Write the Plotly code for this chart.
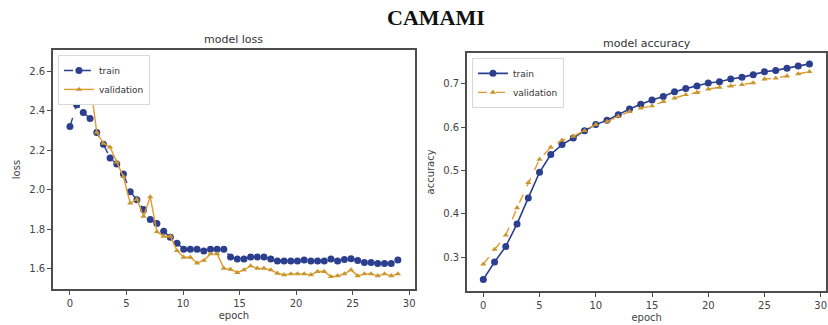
import plotly.graph_objects as go

# ---- data -------------------------------------------------------------
# loss curves are logged 50 times over 29 epochs
loss_epoch = [0.0, 0.59, 1.18, 1.78, 2.37, 2.96, 3.55, 4.14, 4.73, 5.33,
              5.92, 6.51, 7.10, 7.69, 8.29, 8.88, 9.47, 10.06, 10.65, 11.24,
              11.84, 12.43, 13.02, 13.61, 14.20, 14.80, 15.39, 15.98, 16.57, 17.16,
              17.76, 18.35, 18.94, 19.53, 20.12, 20.71, 21.31, 21.90, 22.49, 23.08,
              23.67, 24.27, 24.86, 25.45, 26.04, 26.63, 27.22, 27.82, 28.41, 29.0]
loss_train = [2.32, 2.43, 2.39, 2.36, 2.29, 2.23, 2.16, 2.13, 2.08, 1.99,
              1.95, 1.90, 1.85, 1.83, 1.79, 1.76, 1.73, 1.70, 1.70, 1.70,
              1.69, 1.70, 1.70, 1.70, 1.66, 1.65, 1.65, 1.66, 1.66, 1.66,
              1.65, 1.64, 1.64, 1.64, 1.64, 1.645, 1.64, 1.64, 1.64, 1.65,
              1.64, 1.648, 1.652, 1.642, 1.632, 1.632, 1.628, 1.627, 1.628, 1.645]
loss_val = [2.65, 2.64, 2.62, 2.55, 2.29, 2.235, 2.215, 2.14, 2.066, 1.932,
            1.952, 1.866, 1.964, 1.788, 1.765, 1.765, 1.692, 1.659, 1.659, 1.63,
            1.643, 1.676, 1.676, 1.603, 1.598, 1.582, 1.595, 1.615, 1.603, 1.603,
            1.595, 1.578, 1.57, 1.575, 1.575, 1.575, 1.57, 1.587, 1.587, 1.561,
            1.565, 1.575, 1.595, 1.565, 1.575, 1.575, 1.565, 1.575, 1.565, 1.575]

acc_epoch = list(range(30))
acc_train = [0.249, 0.289, 0.325, 0.377, 0.437, 0.496, 0.537, 0.560, 0.575, 0.592,
             0.606, 0.616, 0.629, 0.642, 0.653, 0.663, 0.671, 0.682, 0.689, 0.695,
             0.702, 0.705, 0.711, 0.715, 0.721, 0.728, 0.731, 0.736, 0.741, 0.746]
acc_val = [0.284, 0.318, 0.351, 0.414, 0.472, 0.526, 0.554, 0.570, 0.579, 0.592,
           0.606, 0.613, 0.625, 0.636, 0.644, 0.649, 0.659, 0.667, 0.675, 0.680,
           0.688, 0.692, 0.695, 0.698, 0.702, 0.711, 0.713, 0.718, 0.723, 0.728]

x_ticks = [0, 5, 10, 15, 20, 25, 30]
loss_ticks = [1.6, 1.8, 2.0, 2.2, 2.4, 2.6]
acc_ticks = [0.3, 0.4, 0.5, 0.6, 0.7]

# ---- style ------------------------------------------------------------
NAVY = "#2b3f8e"
ORANGE = "#e39a2c"
GOLD = "#c9962e"
FRAME = "#4d4d4d"
TEXT = "#444444"
TICKFONT = dict(family="DejaVu Sans", size=10, color=TEXT)
LABELFONT = dict(family="DejaVu Sans", size=10, color=TEXT)

fig = go.Figure()

fig.add_trace(go.Scatter(
    x=loss_epoch, y=loss_train, name="train", mode="lines+markers",
    line=dict(color=NAVY, width=1.4, dash="dash"),
    marker=dict(symbol="circle", size=7, color=NAVY),
    xaxis="x", yaxis="y", legend="legend"))
fig.add_trace(go.Scatter(
    x=loss_epoch, y=loss_val, name="validation", mode="lines+markers",
    line=dict(color=ORANGE, width=1.4),
    marker=dict(symbol="triangle-up", size=5.5, color=GOLD),
    xaxis="x", yaxis="y", legend="legend"))

fig.add_trace(go.Scatter(
    x=acc_epoch, y=acc_train, name="train", mode="lines+markers",
    line=dict(color=NAVY, width=1.6),
    marker=dict(symbol="circle", size=7, color=NAVY),
    xaxis="x2", yaxis="y2", legend="legend2"))
fig.add_trace(go.Scatter(
    x=acc_epoch, y=acc_val, name="validation", mode="lines+markers",
    line=dict(color=ORANGE, width=1.4, dash="dash"),
    marker=dict(symbol="triangle-up", size=5.5, color=GOLD),
    xaxis="x2", yaxis="y2", legend="legend2"))

axis_common = dict(
    showline=True, linecolor=FRAME, linewidth=1.6, mirror=True,
    ticks="outside", ticklen=4, tickcolor=FRAME, tickwidth=1,
    showgrid=False, zeroline=False, tickfont=TICKFONT,
)

legend_common = dict(
    bgcolor="rgba(255,255,255,0.97)", bordercolor="#d8d8d8", borderwidth=1,
    font=dict(family="DejaVu Sans", size=9, color="#333333"),
    xanchor="left", yanchor="top", tracegroupgap=0, itemwidth=30,
)

fig.update_layout(
    width=828, height=325,
    margin=dict(l=0, r=0, t=0, b=0),
    paper_bgcolor="white", plot_bgcolor="white",
    xaxis=dict(domain=[0.064, 0.501], range=[-1.5, 30.5], tickvals=x_ticks,
               anchor="y", title=dict(text="epoch", standoff=4, font=LABELFONT),
               **axis_common),
    yaxis=dict(domain=[0.111, 0.846], range=[1.499, 2.706], tickvals=loss_ticks,
               tickformat=".1f", anchor="x",
               title=dict(text="loss", standoff=7, font=LABELFONT),
               **axis_common),
    xaxis2=dict(domain=[0.564, 0.998], range=[-1.45, 30.5], tickvals=x_ticks,
                anchor="y2", title=dict(text="epoch", standoff=4, font=LABELFONT),
                **axis_common),
    yaxis2=dict(domain=[0.105, 0.837], range=[0.2225, 0.7712], tickvals=acc_ticks,
                tickformat=".1f", anchor="x2",
                title=dict(text="accuracy", standoff=7, font=LABELFONT),
                **axis_common),
    legend=dict(x=0.070, y=0.831, **legend_common),
    legend2=dict(x=0.570, y=0.822, **legend_common),
    showlegend=True,
    annotations=[
        dict(text="<b>CAMAMI</b>", x=0.527, y=1 - 18 / 325, xref="paper", yref="paper",
             xanchor="center", yanchor="middle", showarrow=False,
             font=dict(family="Liberation Serif", size=22, color="#111111")),
        dict(text="model loss", x=(0.064 + 0.501) / 2, y=1 - 39 / 325,
             xref="paper", yref="paper", xanchor="center", yanchor="middle",
             showarrow=False, font=dict(family="DejaVu Sans", size=11, color="#333")),
        dict(text="model accuracy", x=(0.564 + 0.998) / 2, y=1 - 43 / 325,
             xref="paper", yref="paper", xanchor="center", yanchor="middle",
             showarrow=False, font=dict(family="DejaVu Sans", size=11, color="#333")),
    ],
)

fig.write_html("out.html")
